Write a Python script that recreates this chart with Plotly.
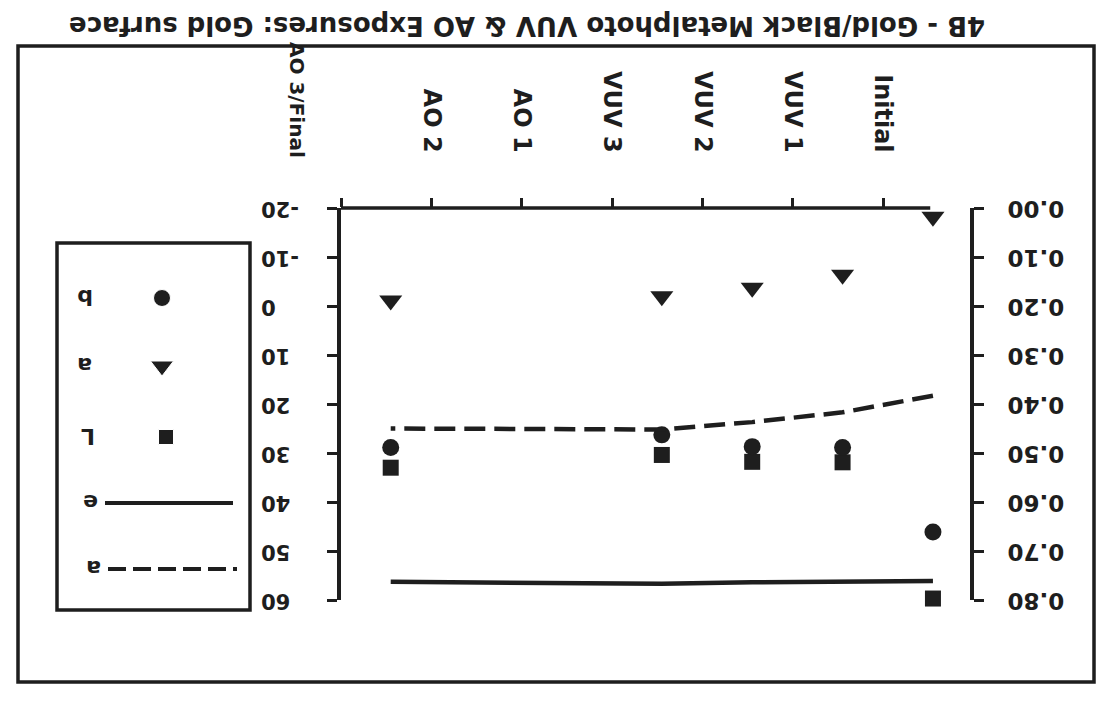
import plotly.graph_objects as go

# ---------------- data ----------------
categories = ["Initial", "VUV 1", "VUV 2", "VUV 3", "AO 1", "AO 2", "AO 3/Final"]
L_star = [59.7, 31.9, 31.8, 30.4, None, None, 33.0]
a_star = [-18.2, -6.4, -3.7, -2.0, None, None, -1.1]
b_star = [46.1, 28.9, 28.7, 26.3, None, None, 28.9]
alpha = [0.383, 0.417, 0.437, 0.452, None, None, 0.450]
emittance = [0.761, 0.762, 0.764, 0.767, None, None, 0.763]
lab_ticks = [-20, -10, 0, 10, 20, 30, 40, 50, 60]
lab_tick_text = ["-20", "-10", "0", "10", "20", "30", "40", "50", "60"]
opt_ticks = [0.0, 0.1, 0.2, 0.3, 0.4, 0.5, 0.6, 0.7, 0.8]
title_text = "4B - Gold/Black Metalphoto VUV & AO Exposures: Gold surface"
legend_labels = ["b", "a", "L", "e", "a"]

# ---------------- layout helpers ----------------
WIN_W, WIN_H = 1108, 705      # browser window
BODY = 8                      # default page margin of the html body
W, H = WIN_W - BODY, WIN_H - BODY
INK = "#1e1e1e"
FONT = "DejaVu Sans"


def px(x):
    """window pixel -> paper fraction"""
    return (x - BODY) / W


def py(y):
    return 1 - (y - BODY) / H


PLOT_L, PLOT_R, PLOT_T, PLOT_B = 341, 970, 208, 600
X_RANGE = [6, -0.96]          # reversed category axis (picture is upside down)
POINT_SHIFT = -0.55           # points sit between the labelled ticks
xs = [i + POINT_SHIFT for i in range(len(categories))]

fig = go.Figure()

# L*, a*, b* markers on the -20..60 axis
fig.add_trace(go.Scatter(x=xs, y=L_star, mode="markers", name="L", cliponaxis=False,
                         marker=dict(symbol="square", size=16, color=INK, opacity=1),
                         xaxis="x", yaxis="y", showlegend=False))
fig.add_trace(go.Scatter(x=xs, y=b_star, mode="markers", name="b", cliponaxis=False,
                         marker=dict(symbol="circle", size=17, color=INK, opacity=1),
                         xaxis="x", yaxis="y", showlegend=False))
fig.add_trace(go.Scatter(x=xs, y=a_star, mode="markers", name="a", cliponaxis=False,
                         marker=dict(symbol="triangle-down", size=20, color=INK, opacity=1),
                         xaxis="x", yaxis="y", showlegend=False))
# alpha / emittance lines on the 0..0.8 axis
fig.add_trace(go.Scatter(x=xs, y=alpha, mode="lines", name="a (alpha)", connectgaps=True,
                         line=dict(color=INK, width=4.5, dash="21px,9px"), cliponaxis=False,
                         xaxis="x", yaxis="y2", showlegend=False))
fig.add_trace(go.Scatter(x=xs, y=emittance, mode="lines", name="e (emittance)", connectgaps=True,
                         line=dict(color=INK, width=4.5), cliponaxis=False,
                         xaxis="x", yaxis="y2", showlegend=False))

# ---------------- hand-drawn legend (upside down) ----------------
LEG_SYM_X = [162, 162, 166]
LEG_ROW_Y = [298, 366, 437, 503, 569]
fig.add_trace(go.Scatter(x=LEG_SYM_X, y=LEG_ROW_Y[:3], mode="markers",
                         marker=dict(symbol=["circle", "triangle-down", "square"],
                                     size=[17, 20, 15], color=INK, opacity=1),
                         xaxis="x3", yaxis="y3", showlegend=False, hoverinfo="skip"))

shapes = [
    # outer frame
    dict(type="rect", xref="x3", yref="y3", x0=18, y0=46, x1=1094, y1=682,
         line=dict(color=INK, width=3.5)),
    # legend box
    dict(type="rect", xref="x3", yref="y3", x0=57, y0=243, x1=250, y1=610,
         line=dict(color=INK, width=3.5)),
    # legend lines
    dict(type="line", xref="x3", yref="y3", x0=105, y0=LEG_ROW_Y[3], x1=233, y1=LEG_ROW_Y[3],
         line=dict(color=INK, width=4)),
    dict(type="line", xref="x3", yref="y3", x0=108, y0=LEG_ROW_Y[4], x1=237, y1=LEG_ROW_Y[4],
         line=dict(color=INK, width=4, dash="18px,7px")),
    # top (category) axis line, stops short of the right axis
    dict(type="line", xref="x", yref="paper", x0=X_RANGE[0], x1=-0.52,
         y0=py(PLOT_T), y1=py(PLOT_T), line=dict(color=INK, width=3.5)),
]

annotations = []
for lbl, ry, lx in zip(legend_labels, LEG_ROW_Y, [85, 85, 88, 91, 94]):
    annotations.append(dict(xref="x3", yref="y3", x=lx, y=ry, text=lbl, showarrow=False,
                            textangle=180, font=dict(family=FONT, size=22, color=INK, weight=700)))
# title (upside down, at the top of the page)
annotations.append(dict(xref="paper", yref="paper", x=px(67), y=py(26), xanchor="left",
                        yanchor="middle", text=title_text, showarrow=False, textangle=180,
                        font=dict(family=FONT, size=26, color=INK, weight=700)))
# last category label sits left of its tick in the scan
annotations.append(dict(xref="x", yref="paper", x=6, xshift=-44, y=py(160), yanchor="bottom",
                        text=categories[-1], showarrow=False, textangle=90,
                        font=dict(family=FONT, size=20, color=INK, weight=700)))

tick_font_cat = dict(family=FONT, size=24, color=INK, weight=700)
fig.update_layout(
    width=W, height=H, margin=dict(l=0, r=0, t=0, b=0, pad=0, autoexpand=False),
    paper_bgcolor="white", plot_bgcolor="rgba(0,0,0,0)",
    showlegend=False,
    xaxis=dict(domain=[px(PLOT_L), px(PLOT_R)], range=X_RANGE, side="top", anchor="y",
               automargin=False,
               showline=False, showgrid=False, zeroline=False,
               tickmode="array", tickvals=list(range(len(categories))),
               ticktext=categories[:-1] + [""], tickangle=90, tickfont=tick_font_cat,
               ticks="outside", ticklen=9, tickwidth=3, tickcolor=INK,
               ticklabelstandoff=37),
    xaxis2=dict(domain=[px(PLOT_L), px(PLOT_R)], range=X_RANGE, side="top", anchor="y",
                overlaying="x", showline=False, showgrid=False, zeroline=False, automargin=False,
                tickmode="array", tickvals=list(range(len(categories))), showticklabels=False,
                ticks="inside", ticklen=8, tickwidth=3, tickcolor=INK),
    yaxis=dict(domain=[py(PLOT_B), py(PLOT_T)], range=[60, -20], side="left", anchor="x",
               automargin=False,
               showline=True, linewidth=3.5, linecolor=INK, showgrid=False, zeroline=False,
               tickmode="array", tickvals=lab_ticks, ticktext=lab_tick_text, tickangle=180,
               ticks="outside", ticklen=10, tickwidth=3, tickcolor=INK,
               tickfont=dict(family=FONT, size=21, color=INK, weight=700),
               ticklabelstandoff=62, ticklabelshift=-8),
    yaxis4=dict(domain=[py(PLOT_B), py(PLOT_T)], range=[60, -20], side="left", anchor="x",
                overlaying="y", showline=False, showgrid=False, zeroline=False, automargin=False,
                tickmode="array", tickvals=lab_ticks, showticklabels=False,
                ticks="inside", ticklen=10, tickwidth=3, tickcolor=INK),
    yaxis2=dict(domain=[py(PLOT_B), py(PLOT_T)], range=[0.8, 0], side="right", anchor="x",
                overlaying="y", showline=True, linewidth=3.5, linecolor=INK, automargin=False,
                showgrid=False, zeroline=False,
                tickmode="array", tickvals=opt_ticks, tickformat=".2f", tickangle=180,
                ticks="outside", ticklen=10, tickwidth=3, tickcolor=INK,
                tickfont=dict(family=FONT, size=23, color=INK, weight=700),
                ticklabelstandoff=76, ticklabelshift=-8),
    yaxis5=dict(domain=[py(PLOT_B), py(PLOT_T)], range=[0.8, 0], side="right", anchor="x",
                overlaying="y", showline=False, showgrid=False, zeroline=False, automargin=False,
                tickmode="array", tickvals=opt_ticks, showticklabels=False,
                ticks="inside", ticklen=12, tickwidth=3, tickcolor=INK),
    xaxis3=dict(domain=[0, 1], range=[BODY, WIN_W], visible=False, fixedrange=True,
                automargin=False, anchor="y3"),
    yaxis3=dict(domain=[0, 1], range=[WIN_H, BODY], visible=False, fixedrange=True,
                anchor="x3", automargin=False),
    shapes=shapes,
    annotations=annotations,
)

fig.write_html("out.html")
